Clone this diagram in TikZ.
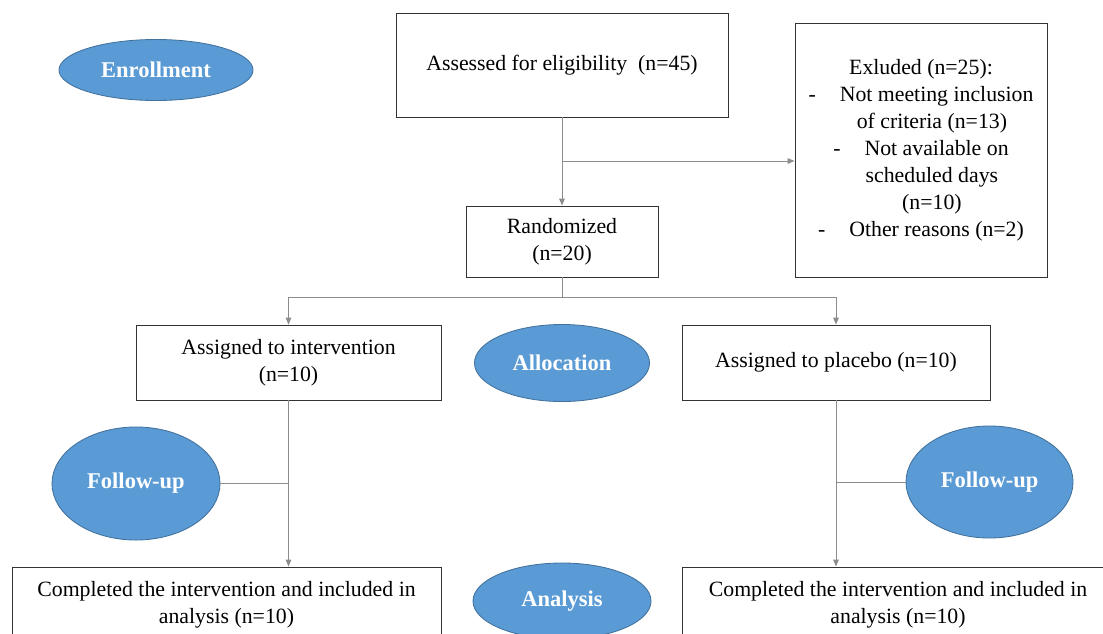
\documentclass[tikz,border=0pt]{standalone}
\usepackage{fontspec}
\setmainfont{Liberation Serif}
\usepackage{tikz}
\usetikzlibrary{positioning,shapes.geometric,arrows.meta}
\usepackage{xcolor}
\definecolor{stageblue}{HTML}{5B9BD5}
\definecolor{stageedge}{HTML}{41719C}
\definecolor{linegray}{HTML}{8C8C8C}
\tikzset{
	flowbox/.style 2 args={%
		draw=black!80, line width=0.6pt,
		minimum width=#1,
		minimum height=#2,
		align=center, inner sep=2pt,
		font=\fontsize{15.5}{19.2}\selectfont
	},
	stage/.style 2 args={%
		ellipse, draw=stageedge, fill=stageblue, line width=0.6pt,
		minimum width=#1,
		minimum height=#2,
		inner sep=0pt, text=white,
		font=\fontsize{16}{19}\selectfont\bfseries
	},
	link/.style={draw=linegray, line width=0.7pt},
	arr/.style={link, -{Triangle[length=5pt,width=4pt]}},
	>=LaTeX
}

\begin{document}
\begin{tikzpicture}[x=0.025cm,y=-0.025cm]
		% frame of the picture
		\useasboundingbox (0,0) rectangle (1103,633);
		\clip (0,0) rectangle (1103,633);
		
		% stage labels
		\node[stage={4.85cm}{1.525cm}] (enroll) at (156,70) {Enrollment};
		\node[stage={4.375cm}{1.925cm}] (allocation) at (562,363) {Allocation};
		\node[stage={4.2cm}{2.825cm}] (followleft) at (136,483.5) {Follow-up};
		\node[stage={4.175cm}{2.8cm}] (followright) at (989.5,482) {Follow-up};
		\node[stage={4.45cm}{1.9cm}] (analysis) at (562,601) {Analysis};
		
		% boxes
		\node[flowbox={8.3cm}{2.6cm}] (assessed) at (562,65) {Assessed for eligibility\ \ (n=45)};
		\node[flowbox={6.3cm}{6.35cm}] (excluded) at (921,150) {Exluded (n=25):\\
			-\hspace{1.1em}Not meeting inclusion\\
			\hspace*{1em}of criteria (n=13)\\
			-\hspace{1.1em}Not available on\\
			\hspace*{1em}scheduled days\\
			\hspace*{1em}(n=10)\\
			-\hspace{1.1em}Other reasons (n=2)};
		\node[flowbox={4.8cm}{1.775cm}] (randomized) at (562,241.5) {Randomized\\(n=20)};
		\node[flowbox={7.625cm}{1.875cm}] (intervention) at (288.5,362.5) {Assigned to intervention\\(n=10)};
		\node[flowbox={7.7cm}{1.875cm}] (placebo) at (836,362.5) {Assigned to placebo (n=10)};
		\node[flowbox={10.725cm}{1.875cm}] (completedleft) at (226.5,604.5) {Completed the intervention and included in\\analysis (n=10)};
		\node[flowbox={10.8cm}{1.875cm}] (completedright) at (898,604.5) {Completed the intervention and included in\\analysis (n=10)};
		
		% split points
		\coordinate (split) at (562,161);
		\coordinate (alloc) at (562,297);
		
		%arrows between boxes
		\draw[arr] (assessed.south) -- (randomized.north);
		\draw[arr] (split) -- (split -| excluded.west);
		\draw[link] (randomized.south) -- (alloc);
		\draw[arr] (alloc) -| (intervention.north);
		\draw[arr] (alloc) -| (placebo.north);
		\draw[arr] (intervention.south) -- (intervention.south |- completedleft.north);
		\draw[arr] (placebo.south) -- (placebo.south |- completedright.north);
		\draw[link] (followleft.east) -- (followleft.east -| intervention.south);
		\draw[link] (followright.west) -- (followright.west -| placebo.south);
		
\end{tikzpicture}
\end{document}
